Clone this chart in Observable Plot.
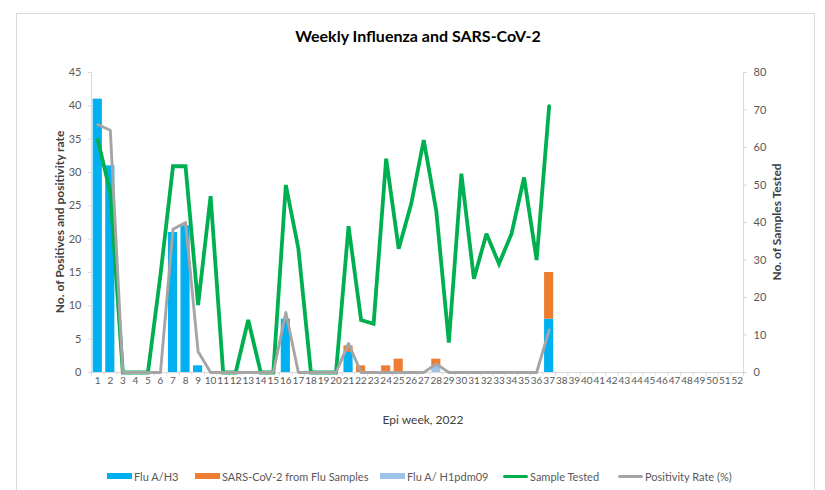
<!DOCTYPE html>
<html>
<head>
<meta charset="utf-8">
<script src="https://cdn.jsdelivr.net/npm/d3@7"></script>
<script src="https://cdn.jsdelivr.net/npm/@observablehq/plot@0.6"></script>
<style>
  html, body { margin: 0; padding: 0; background: #fff; overflow: hidden; }
  #wrap { position: relative; width: 825px; height: 490px; font-family: Lato, "Open Sans", sans-serif; color: #404040; }
  #border { position: absolute; left: 16px; top: 13px; width: 799px; height: 490px; border: 1px solid #d9d9d9; box-sizing: border-box; }
  #title { position: absolute; left: 418px; top: 28px; transform: translateX(-50%); font-size: 16px; font-weight: 700; color: #000; white-space: nowrap; line-height: 1; }
  .ytitle { position: absolute; transform: translate(-50%, -50%) rotate(-90deg); font-size: 12px; font-weight: 700; color: #404040; white-space: nowrap; line-height: 1; }
  #xtitle { position: absolute; left: 423px; top: 420px; transform: translate(-50%, -50%); font-size: 12px; color: #404040; white-space: nowrap; line-height: 1; }
  #plot { position: absolute; left: 0; top: 0; }
  .lg { position: absolute; top: 476px; transform: translateY(-50%); font-size: 11px; color: #595959; white-space: nowrap; line-height: 1; }
  .sw { position: absolute; }
</style>
</head>
<body>
<div id="wrap">
  <div id="border"></div>
  <div id="plot"></div>
  <div id="title"></div>
  <div class="ytitle" id="ylt" style="left:60px; top:222px;"></div>
  <div class="ytitle" id="yrt" style="left:777px; top:222px;"></div>
  <div id="xtitle"></div>
  <div id="legend"></div>
</div>
<script>
// ---- Data ----
const titleText = "Weekly Influenza and SARS-CoV-2";
const xTitle = "Epi week, 2022";
const yLeftTitle = "No. of Positives and positivity rate";
const yRightTitle = "No. of Samples Tested";

const weeks = [1,2,3,4,5,6,7,8,9,10,11,12,13,14,15,16,17,18,19,20,21,22,23,24,25,26,27,28,29,30,31,32,33,34,35,36,37,38,39,40,41,42,43,44,45,46,47,48,49,50,51,52];
const dataWeeks = [1,2,3,4,5,6,7,8,9,10,11,12,13,14,15,16,17,18,19,20,21,22,23,24,25,26,27,28,29,30,31,32,33,34,35,36,37];

const fluH3 =    [41,31,0,0,0,0,21,22,1,0,0,0,0,0,0,8,0,0,0,0,3,0,0,0,0,0,0,0,0,0,0,0,0,0,0,0,8];
const sarsCov2 = [0,0,0,0,0,0,0,0,0,0,0,0,0,0,0,0,0,0,0,0,1,1,0,1,2,0,0,1,0,0,0,0,0,0,0,0,7];
const fluH1 =    [0,0,0,0,0,0,0,0,0,0,0,0,0,0,0,0,0,0,0,0,0,0,0,0,0,0,0,1,0,0,0,0,0,0,0,0,0];
const samplesTested = [62,48,0,0,0,26,55,55,18,47,0,0,14,0,0,50,33,0,0,0,39,14,13,57,33,45,62,43,8,53,25,37,29,37,52,30,71];
const positivityRate = [66.1,64.6,0,0,0,0,38.2,40.0,5.6,0,0,0,0,0,0,16.0,0,0,0,0,7.7,0,0,0,0,0,0,2.3,0,0,0,0,0,0,0,0,11.3];

const leftTicks = [0,5,10,15,20,25,30,35,40,45];
const rightTicks = [0,10,20,30,40,50,60,70,80];

const seriesNames = ["Flu A/H3", "SARS-CoV-2 from Flu Samples", "Flu A/ H1pdm09"];
const seriesColors = ["#00B0F0", "#ED7D31", "#9DC3E6"];
const lineNames = ["Sample Tested", "Positivity Rate (%)"];
const lineColors = ["#00B050", "#A5A5A5"];

// ---- Build tables ----
const leftMax = 45, rightMax = 80;
const toLeft = v => v * leftMax / rightMax;

const barRows = [];
dataWeeks.forEach((w, i) => {
  barRows.push({week: w, series: seriesNames[0], value: fluH3[i]});
  barRows.push({week: w, series: seriesNames[2], value: fluH1[i]});
  barRows.push({week: w, series: seriesNames[1], value: sarsCov2[i]});
});
const lineRows = dataWeeks.map((w, i) => ({week: w, samples: samplesTested[i], pos: positivityRate[i]}));

const W = 825, H = 490, mL = 91, mR = 82, mT = 72, mB = 118;
const step = (W - mL - mR) / weeks.length;
const half = step / 2;
const axisGray = "#D9D9D9";
const textGray = "#595959";

const chart = Plot.plot({
  width: W, height: H,
  marginLeft: mL, marginRight: mR, marginTop: mT, marginBottom: mB,
  style: {fontFamily: "Lato, 'Open Sans', sans-serif", fontSize: "11px", background: "transparent", color: textGray},
  x: {type: "band", domain: weeks, paddingInner: 0.27, paddingOuter: 0.135, round: false, axis: null},
  y: {domain: [0, leftMax], axis: null},
  color: {domain: seriesNames, range: seriesColors},
  marks: [
    // axis lines
    Plot.ruleY([0], {stroke: axisGray, strokeWidth: 1}),
    Plot.ruleX([weeks[0]], {dx: -half, y1: 0, y2: leftMax, stroke: axisGray}),
    Plot.ruleX([weeks[weeks.length - 1]], {dx: half, y1: 0, y2: leftMax, stroke: axisGray}),
    // x tick marks at band boundaries
    Plot.ruleX(weeks, {dx: -half, y1: 0, y2: -0.55, stroke: axisGray}),
    Plot.ruleX([weeks[weeks.length - 1]], {dx: half, y1: 0, y2: -0.55, stroke: axisGray}),
    // bars
    Plot.barY(barRows, {x: "week", y: "value", fill: "series", order: [seriesNames[0], seriesNames[2], seriesNames[1]]}),
    // lines
    Plot.line(lineRows, {x: "week", y: d => toLeft(d.samples), stroke: lineColors[0], strokeWidth: 3.8, strokeLinejoin: "miter", strokeMiterlimit: 3}),
    Plot.line(lineRows, {x: "week", y: d => toLeft(d.pos), stroke: lineColors[1], strokeWidth: 2.9, strokeLinejoin: "round"}),
    // axes
    Plot.axisX(weeks, {tickSize: 0, tickPadding: 4, fontSize: 10, fill: textGray, label: null}),
    Plot.axisY(leftTicks, {anchor: "left", tickSize: 3, tickPadding: 7, stroke: axisGray, fill: textGray, fontSize: 11, label: null}),
    Plot.axisY(rightTicks.map(toLeft), {anchor: "right", tickSize: 3, tickPadding: 7, stroke: axisGray, fill: textGray, fontSize: 11, label: null,
      tickFormat: d => String(Math.round(d * rightMax / leftMax))})
  ]
});
document.getElementById("plot").appendChild(chart);

document.getElementById("title").textContent = titleText;
document.getElementById("xtitle").textContent = xTitle;
document.getElementById("ylt").textContent = yLeftTitle;
document.getElementById("yrt").textContent = yRightTitle;

// legend
const legend = document.getElementById("legend");
const legendItems = [
  {label: seriesNames[0], color: seriesColors[0], kind: "bar", x: 107},
  {label: seriesNames[1], color: seriesColors[1], kind: "bar", x: 195},
  {label: seriesNames[2], color: seriesColors[2], kind: "bar", x: 380},
  {label: lineNames[0], color: lineColors[0], kind: "line", x: 503},
  {label: lineNames[1], color: lineColors[1], kind: "line", x: 618}
];
legendItems.forEach(it => {
  const sw = document.createElement("div");
  sw.className = "sw";
  const h = it.kind === "bar" ? 6 : 3;
  sw.style.left = it.x + "px";
  sw.style.width = "25px";
  sw.style.height = h + "px";
  sw.style.top = (476 - h / 2) + "px";
  sw.style.background = it.color;
  if (it.kind === "line") sw.style.borderRadius = "2px";
  legend.appendChild(sw);
  const t = document.createElement("div");
  t.className = "lg";
  t.style.left = (it.x + 27) + "px";
  t.textContent = it.label;
  legend.appendChild(t);
});
</script>
</body>
</html>
